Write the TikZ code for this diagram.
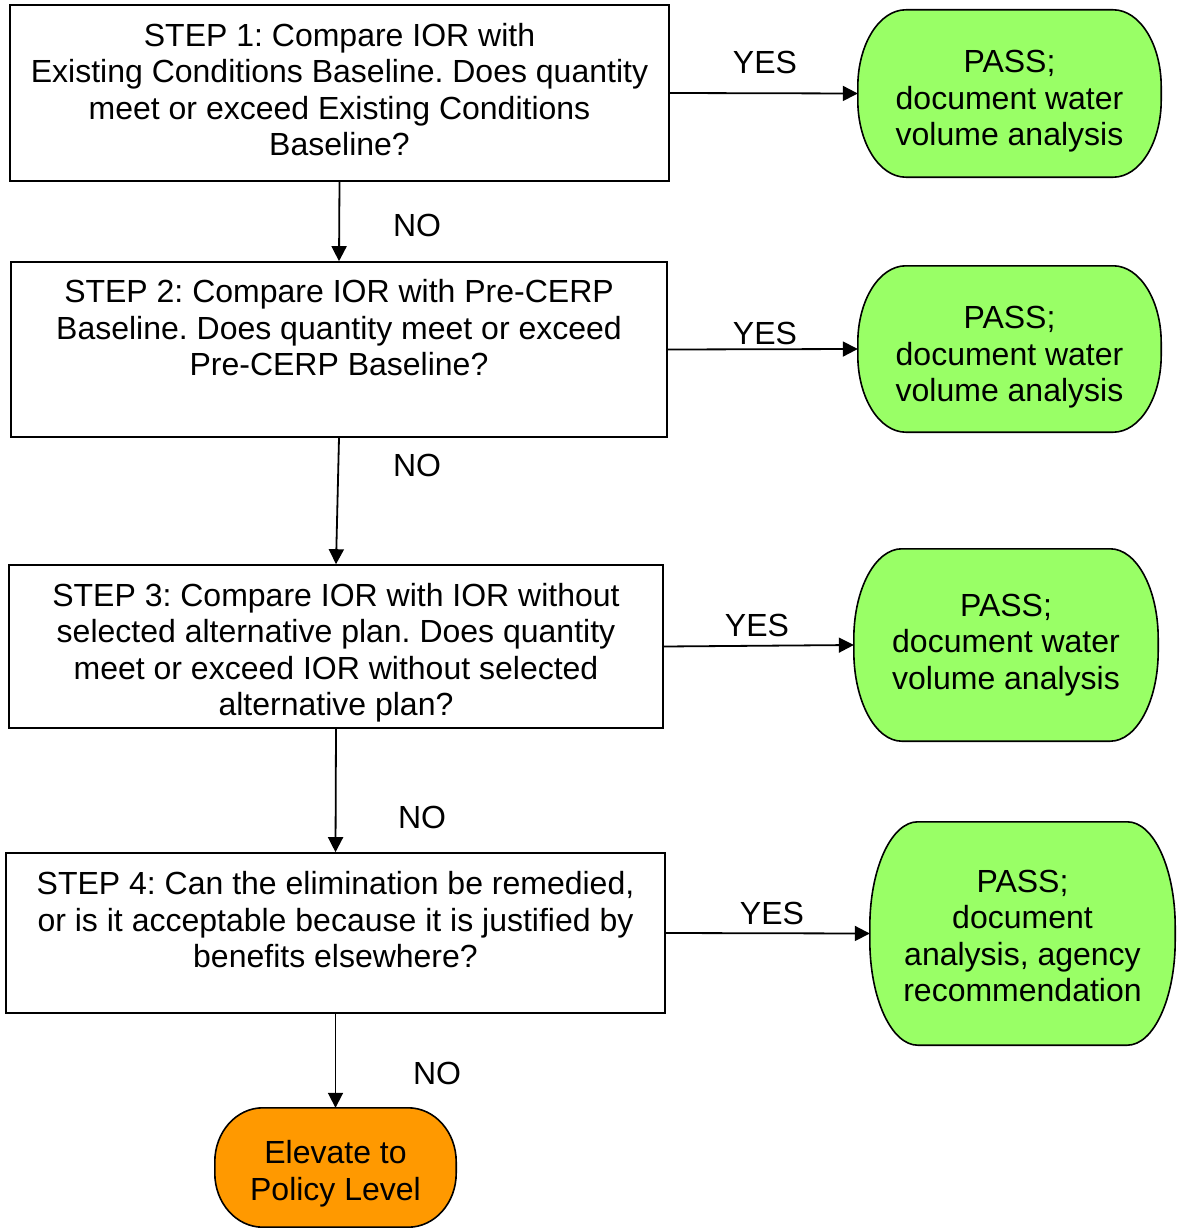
\documentclass[tikz,border=0pt]{standalone}
\usepackage{fontspec}
\setmainfont{Liberation Sans}
\usetikzlibrary{arrows.meta,backgrounds}

\definecolor{passgreen}{HTML}{99FF66}
\definecolor{elevorange}{HTML}{FF9900}

\frenchspacing

\tikzset{
  txt/.style={font=\fontsize{32}{36.5}\selectfont, align=center, inner sep=0pt},
  stepbox/.style={txt, draw, line width=1.6pt, rectangle},
  term/.style={txt, rectangle},
  arr/.style={-{Triangle[length=15pt,width=15pt]}, line width=1.8pt},
  lbl/.style={txt}
}

% struts that move a centred text block down (first line) or up (last line)
\newcommand\pushdown[1]{\rule{0pt}{\dimexpr23pt+#1*2\relax}}
\newcommand\pushup[1]{\rule[-\dimexpr#1*2\relax]{0pt}{0pt}}

% terminal outline: flat top and bottom, elliptic ends
\newcommand\termshape[3]{%
  \filldraw[fill=#2, draw=black, line width=1.6pt]
    ([xshift=48pt]#1.north west) -- ([xshift=-48pt]#1.north east)
    arc[start angle=90, end angle=0, x radius=48pt, y radius=#3]
    -- ([yshift=#3]#1.south east)
    arc[start angle=0, end angle=-90, x radius=48pt, y radius=#3]
    -- ([xshift=48pt]#1.south west)
    arc[start angle=270, end angle=180, x radius=48pt, y radius=#3]
    -- ([yshift=-#3]#1.north west)
    arc[start angle=180, end angle=90, x radius=48pt, y radius=#3]
    -- cycle;}

\begin{document}
\begin{tikzpicture}[x=1pt, y=-1pt]
\useasboundingbox (0,0) rectangle (1178,1228);

% decision steps
\node[stepbox, minimum width=659pt, minimum height=176pt] (s1) at (339.5,93)
  {STEP 1: Compare IOR with\\Existing Conditions Baseline. Does quantity\\meet or exceed Existing Conditions\\Baseline?\pushup{3.5pt}};
\node[stepbox, minimum width=656pt, minimum height=175pt] (s2) at (339,349.5)
  {STEP 2: Compare IOR with Pre-CERP\\Baseline. Does quantity meet or exceed\\Pre-CERP Baseline?\pushup{22pt}};
\node[stepbox, minimum width=654pt, minimum height=163pt] (s3) at (336,646.5)
  {\pushdown{6.5pt}STEP 3: Compare IOR with IOR without\\selected alternative plan. Does quantity\\meet or exceed IOR without selected\\alternative plan?};
\node[stepbox, minimum width=659pt, minimum height=160pt] (s4) at (335.5,933)
  {STEP 4: Can the elimination be remedied,\\or is it acceptable because it is justified by\\benefits elsewhere?\pushup{13.5pt}};

% outcomes
\node[term, minimum width=303pt, minimum height=167pt] (p1) at (1009.5,93.5)
  {\pushdown{7.5pt}PASS;\\document water\\volume analysis};
\node[term, minimum width=303pt, minimum height=166pt] (p2) at (1009.5,349)
  {\pushdown{8pt}PASS;\\document water\\volume analysis};
\node[term, minimum width=304pt, minimum height=192pt] (p3) at (1006,645)
  {PASS;\\document water\\volume analysis};
\node[term, minimum width=305pt, minimum height=223pt] (p4) at (1022.5,933.5)
  {\pushdown{2pt}PASS;\\document\\analysis, agency\\recommendation};
\node[term, minimum width=241pt, minimum height=119pt] (elev) at (335.5,1167.5)
  {\pushdown{6.5pt}Elevate to\\Policy Level};

\begin{scope}[on background layer]
  \termshape{p1}{passgreen}{77pt}
  \termshape{p2}{passgreen}{77pt}
  \termshape{p3}{passgreen}{90pt}
  \termshape{p4}{passgreen}{105pt}
  \termshape{elev}{elevorange}{54pt}
\end{scope}

% NO branches
\draw[arr] (s1.south) -- (s2.north);
\draw[arr] (s2.south) -- (s3.north);
\draw[arr] (s3.south) -- (s4.north);
\draw[arr] (s4.south) -- (elev.north);

% YES branches
\draw[arr] (s1.east) -- (p1.west);
\draw[arr] (s2.east) -- (p2.west);
\draw[arr] (s3.east) -- (p3.west);
\draw[arr] (s4.east) -- (p4.west);

% branch labels
\node[lbl] (no1) at (417,225) {NO};
\node[lbl] (no2) at (417,465) {NO};
\node[lbl] (no3) at (422,817) {NO};
\node[lbl] (no4) at (437,1073) {NO};
\node[lbl] (yes1) at (765,62) {YES};
\node[lbl] (yes2) at (765,333) {YES};
\node[lbl] (yes3) at (757,625) {YES};
\node[lbl] (yes4) at (772,913) {YES};
\end{tikzpicture}
\end{document}
